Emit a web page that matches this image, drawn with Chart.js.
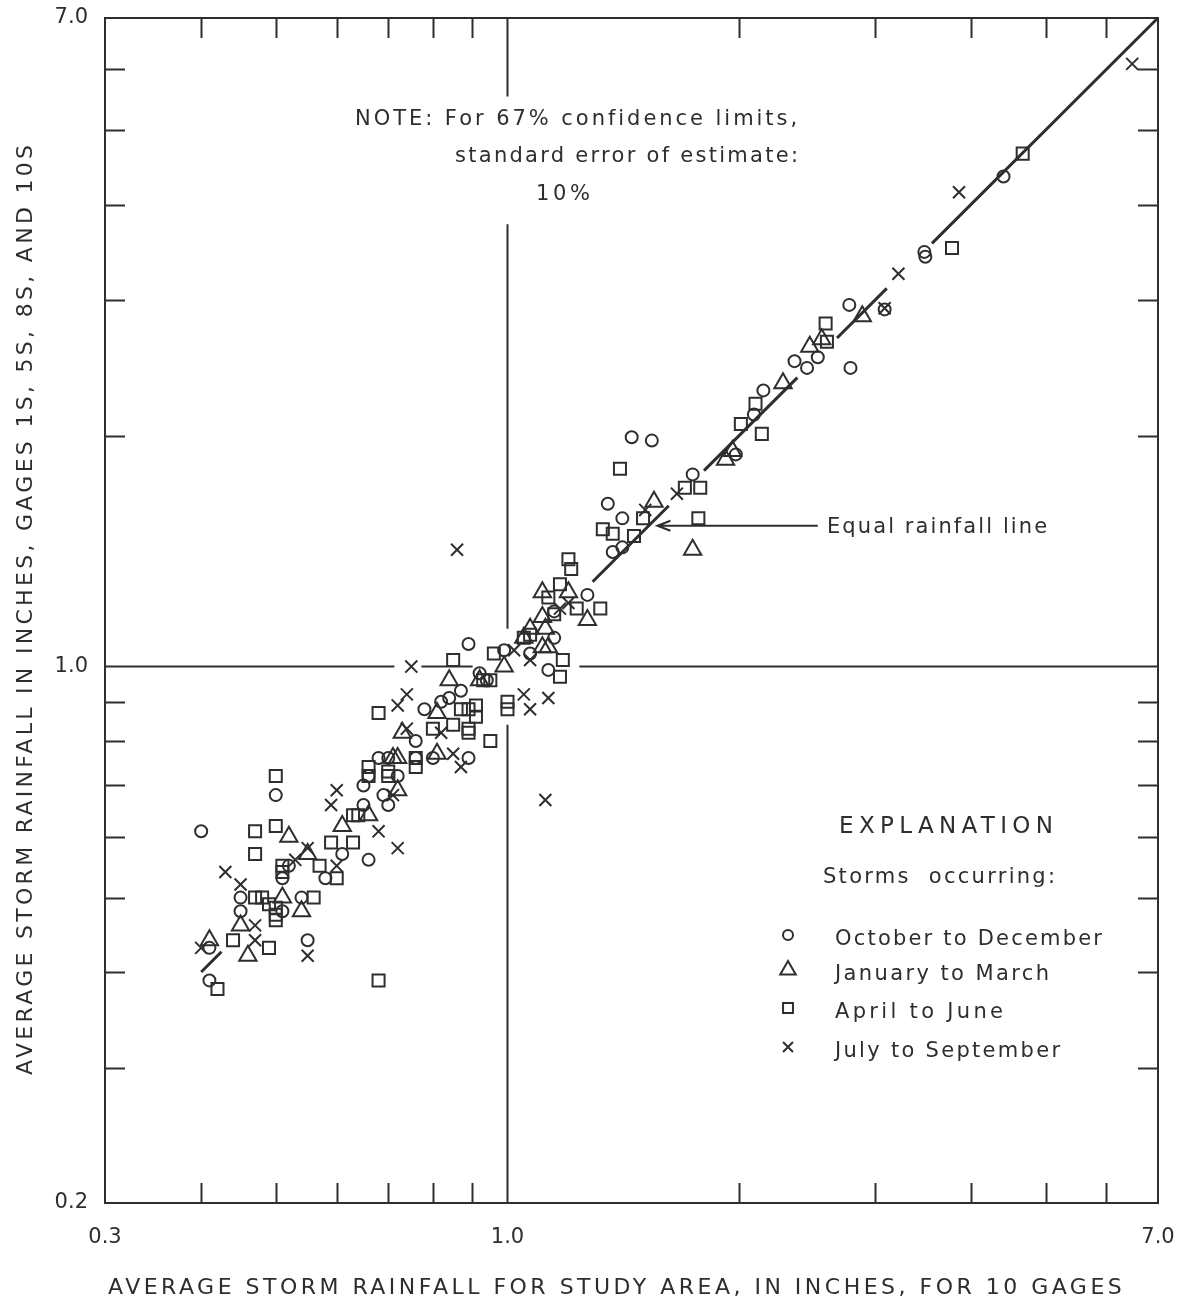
<!DOCTYPE html>
<html>
<head>
<meta charset="utf-8">
<script src="https://cdn.jsdelivr.net/npm/chart.js@4.4.1/dist/chart.umd.min.js"></script>
<style>
  html, body { margin: 0; padding: 0; background: #fff; }
  #wrap { width: 1182px; height: 1302px; }
</style>
</head>
<body>
<div id="wrap"><canvas id="chart" width="1182" height="1302"></canvas></div>
<script>
// [x, y] = average storm rainfall, study area (10 gages) vs gages 1S, 5S, 8S, 10S
const octDec = [
  [0.50,0.68],[0.40,0.61],[0.61,0.57],[0.52,0.55],[0.51,0.53],[0.58,0.53],[0.45,0.50],[0.54,0.50],
  [0.51,0.48],[0.45,0.48],[0.41,0.43],[0.55,0.44],[0.41,0.39],
  [0.78,0.88],[0.82,0.90],[0.84,0.91],[0.76,0.80],[0.68,0.76],[0.70,0.76],[0.76,0.76],[0.80,0.76],
  [0.65,0.70],[0.66,0.72],[0.72,0.72],[0.69,0.68],[0.70,0.66],[0.65,0.66],[0.66,0.56],
  [0.89,1.07],[0.99,1.05],[0.87,0.93],[0.89,0.76],[0.92,0.98],[0.94,0.96],
  [1.27,1.24],[1.15,1.09],[1.13,0.99],[1.07,1.04],[1.15,1.18],
  [1.45,1.99],[1.54,1.97],[1.74,1.78],[1.35,1.63],[1.41,1.56],[1.37,1.41],[1.41,1.43],
  [2.78,2.96],[3.09,2.92],[2.53,2.53],[2.45,2.45],[2.36,2.50],[2.79,2.45],[2.15,2.29],[2.09,2.13],[1.98,1.89],
  [4.41,4.35],[3.48,3.47],[3.49,3.42]
];
const janMar = [
  [0.52,0.60],[0.61,0.62],[0.55,0.57],[0.51,0.50],[0.54,0.48],[0.45,0.46],[0.41,0.44],[0.46,0.42],
  [0.81,0.87],[0.73,0.82],[0.71,0.76],[0.72,0.76],[0.81,0.77],[0.72,0.69],[0.66,0.64],
  [1.05,1.09],[0.99,1.00],[0.84,0.96],[0.92,0.96],
  [1.11,1.25],[1.20,1.25],[1.27,1.15],[1.11,1.16],[1.07,1.12],[1.12,1.12],[1.11,1.06],[1.13,1.06],
  [1.92,1.86],[1.55,1.64],[1.74,1.42],
  [2.89,2.86],[2.56,2.67],[2.47,2.61],[2.28,2.34],[1.96,1.91]
];
const aprJun = [
  [0.50,0.72],[0.47,0.61],[0.50,0.62],[0.63,0.64],[0.59,0.59],[0.63,0.59],[0.47,0.57],[0.51,0.55],
  [0.51,0.54],[0.57,0.55],[0.60,0.53],[0.47,0.50],[0.48,0.50],[0.56,0.50],[0.49,0.49],[0.50,0.485],
  [0.50,0.475],[0.50,0.467],[0.44,0.44],[0.49,0.43],[0.42,0.38],[0.68,0.39],
  [0.68,0.87],[0.80,0.83],[0.85,0.84],[0.76,0.74],[0.76,0.76],[0.66,0.74],[0.66,0.72],[0.70,0.73],
  [0.70,0.72],[0.64,0.64],
  [0.85,1.02],[0.96,1.04],[0.87,0.88],[0.89,0.88],[0.91,0.89],[0.91,0.86],[0.89,0.83],[0.89,0.82],
  [1.00,0.88],[1.00,0.90],[0.95,0.80],[0.95,0.96],[0.93,0.96],
  [1.20,1.38],[1.21,1.34],[1.17,1.28],[1.13,1.23],[1.23,1.19],[1.32,1.19],[1.15,1.17],[1.05,1.09],
  [1.07,1.10],[1.18,1.02],[1.17,0.97],
  [1.40,1.81],[1.70,1.71],[1.78,1.71],[1.77,1.56],[1.50,1.56],[1.33,1.51],[1.37,1.49],[1.46,1.48],
  [2.59,2.80],[2.60,2.65],[2.10,2.20],[2.01,2.07],[2.14,2.01],
  [4.67,4.66],[3.78,3.51]
];
const julSep = [
  [0.60,0.69],[0.59,0.66],[0.55,0.58],[0.53,0.56],[0.60,0.55],[0.43,0.54],[0.45,0.52],[0.47,0.46],
  [0.47,0.44],[0.40,0.43],[0.55,0.42],
  [0.74,0.92],[0.72,0.89],[0.82,0.82],[0.74,0.83],[0.85,0.77],[0.71,0.68],[0.68,0.61],[0.72,0.58],
  [0.75,1.00],[1.02,1.05],[1.05,0.92],[0.87,0.74],
  [1.20,1.21],[1.07,1.02],[1.07,0.88],[1.13,0.91],[1.17,1.19],
  [0.86,1.42],[1.12,0.67],
  [1.66,1.68],[1.51,1.60],
  [6.48,6.10],[3.86,4.15],[3.22,3.25],[3.09,2.93]
];

// equal rainfall line (y = x), drawn in broken pieces
const equalLineSegments = [[0.40,0.425],[1.29,1.62],[1.80,2.38],[2.68,3.11],[3.56,7.0]];
// the 1.0 lines, broken around the points and the note
const horizOneSegments = [[0.3,0.713],[0.773,0.901],[1.24,7.0]];
const vertOneSegments = [[0.2,0.84],[1.12,3.77],[5.53,7.0]];

const xTickLabels = [0.3, 1.0, 7.0];
const yTickLabels = [0.2, 1.0, 7.0];
const xMinorTicks = [0.4,0.5,0.6,0.7,0.8,0.9,2,3,4,5,6];
const yMinorTicks = [0.3,0.4,0.5,0.6,0.7,0.8,0.9,2,3,4,5,6];

const arrowFrom = [2.53, 1.526];
const arrowTo = [1.566, 1.526];

const ink = '#2e2e2e';
const lettering = '"DejaVu Sans", sans-serif';

function toPoints(arr) {
  return arr.map(([x, y]) => ({ x, y }));
}

// pieces joined by a null so the line breaks
function brokenLine(segs, make) {
  const out = [];
  segs.forEach(([a, b]) => {
    out.push(make(a), make(b));
    out.push({ x: make(b).x, y: null });
  });
  return out;
}

function lineSet(data, width) {
  return {
    type: 'line', data, showLine: true, spanGaps: false,
    borderColor: ink, borderWidth: width, pointRadius: 0, fill: false
  };
}

function markSet(label, data, style, radius) {
  return {
    label, data: toPoints(data), pointStyle: style, pointRadius: radius,
    borderColor: ink, borderWidth: 2, backgroundColor: 'rgba(0,0,0,0)'
  };
}

// draws text stretched to a given width with letter spacing
function fitText(ctx, text, x, y, width) {
  ctx.letterSpacing = '0px';
  const w = ctx.measureText(text).width;
  const sp = (width - w) / Math.max(1, text.length - 1);
  ctx.letterSpacing = sp.toFixed(2) + 'px';
  ctx.textAlign = 'left';
  ctx.textBaseline = 'alphabetic';
  ctx.fillText(text, x, y);
  ctx.letterSpacing = '0px';
}

const decor = {
  id: 'decor',
  afterDatasetsDraw(chart) {
    const { ctx, chartArea: a, scales: { x, y } } = chart;
    ctx.save();
    ctx.strokeStyle = ink;
    ctx.fillStyle = ink;
    ctx.lineWidth = 2;
    ctx.lineCap = 'butt';

    // frame
    ctx.strokeRect(a.left, a.top, a.right - a.left, a.bottom - a.top);

    // inward ticks on all four sides
    const tl = 20;
    ctx.beginPath();
    xMinorTicks.forEach(v => {
      const px = Math.round(x.getPixelForValue(v)) + 0.5;
      ctx.moveTo(px, a.top); ctx.lineTo(px, a.top + tl);
      ctx.moveTo(px, a.bottom); ctx.lineTo(px, a.bottom - tl);
    });
    yMinorTicks.forEach(v => {
      const py = Math.round(y.getPixelForValue(v)) + 0.5;
      ctx.moveTo(a.left, py); ctx.lineTo(a.left + tl, py);
      ctx.moveTo(a.right, py); ctx.lineTo(a.right - tl, py);
    });
    ctx.stroke();

    // arrow to the equal rainfall line
    const ax0 = x.getPixelForValue(arrowFrom[0]), ay0 = y.getPixelForValue(arrowFrom[1]);
    const ax1 = x.getPixelForValue(arrowTo[0]), ay1 = y.getPixelForValue(arrowTo[1]);
    ctx.beginPath();
    ctx.moveTo(ax0, ay0); ctx.lineTo(ax1, ay1);
    ctx.moveTo(ax1 + 13, ay1 - 5); ctx.lineTo(ax1, ay1); ctx.lineTo(ax1 + 13, ay1 + 5);
    ctx.stroke();

    // note
    ctx.font = '21px ' + lettering;
    fitText(ctx, 'NOTE: For 67% confidence limits,', 355, 125, 442);
    fitText(ctx, 'standard error of estimate:', 455, 162, 343);
    fitText(ctx, '10%', 536, 200, 54);

    fitText(ctx, 'Equal rainfall line', 827, 533, 220);

    // explanation
    ctx.font = '23px ' + lettering;
    fitText(ctx, 'EXPLANATION', 839, 833, 214);
    ctx.font = '21px ' + lettering;
    fitText(ctx, 'Storms  occurring:', 823, 883, 232);
    const items = [
      ['October to December', 945, 267, 'circle', 5],
      ['January to March', 980, 214, 'triangle', 9],
      ['April to June', 1018, 168, 'rect', 7],
      ['July to September', 1057, 225, 'crossRot', 7]
    ];
    items.forEach(([txt, by, w, style, r]) => {
      ctx.fillStyle = ink;
      fitText(ctx, txt, 835, by, w);
      ctx.fillStyle = 'rgba(0,0,0,0)';
      Chart.helpers.drawPoint(ctx, { pointStyle: style, radius: r, borderWidth: 2 }, 788, by - 10);
    });
    ctx.fillStyle = ink;

    // axis titles
    ctx.font = '22px ' + lettering;
    fitText(ctx, 'AVERAGE STORM RAINFALL FOR STUDY AREA, IN INCHES, FOR 10 GAGES', 108, 1294, 1014);
    ctx.save();
    ctx.translate(32, 1075);
    ctx.rotate(-Math.PI / 2);
    fitText(ctx, 'AVERAGE STORM RAINFALL IN INCHES, GAGES 1S, 5S, 8S, AND 10S', 0, 0, 930);
    ctx.restore();

    ctx.restore();
  }
};

const tickFont = { family: lettering, size: 21 };

new Chart(document.getElementById('chart'), {
  type: 'scatter',
  data: {
    datasets: [
      lineSet(brokenLine(horizOneSegments, v => ({ x: v, y: 1 })), 2),
      lineSet(brokenLine(vertOneSegments, v => ({ x: 1, y: v })), 2),
      lineSet(brokenLine(equalLineSegments, v => ({ x: v, y: v })), 3),
      markSet('October to December', octDec, 'circle', 6),
      markSet('January to March', janMar, 'triangle', 10),
      markSet('April to June', aprJun, 'rect', 8.5),
      markSet('July to September', julSep, 'crossRot', 8.5)
    ]
  },
  options: {
    responsive: false,
    animation: false,
    events: [],
    layout: { padding: { top: 18, right: 24, left: 0, bottom: 0 } },
    plugins: { legend: { display: false }, tooltip: { enabled: false } },
    scales: {
      x: {
        type: 'logarithmic', min: 0.3, max: 7,
        afterBuildTicks: s => { s.ticks = xTickLabels.map(v => ({ value: v })); },
        afterFit: s => { s.height = 99; s.paddingLeft = 0; s.paddingRight = 0; },
        grid: { display: false, drawTicks: false },
        border: { display: false },
        ticks: {
          color: ink, font: tickFont, padding: 22, maxRotation: 0, autoSkip: false,
          callback: v => Number(v).toFixed(1)
        }
      },
      y: {
        type: 'logarithmic', min: 0.2, max: 7,
        afterBuildTicks: s => { s.ticks = yTickLabels.map(v => ({ value: v })); },
        afterFit: s => { s.width = 105; s.paddingTop = 0; s.paddingBottom = 0; },
        grid: { display: false, drawTicks: false },
        border: { display: false },
        ticks: {
          color: ink, font: tickFont, padding: 17, autoSkip: false,
          callback: v => Number(v).toFixed(1)
        }
      }
    }
  },
  plugins: [decor]
});
</script>
</body>
</html>
